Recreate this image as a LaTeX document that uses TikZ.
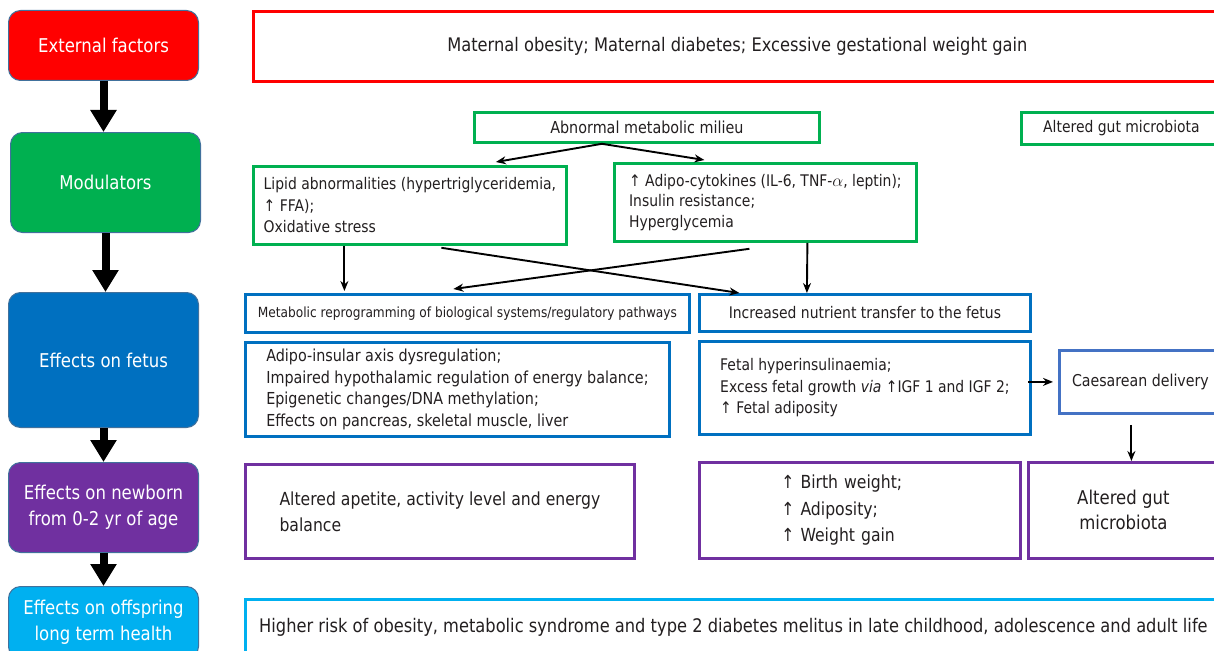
\documentclass[tikz,border=0pt]{standalone}
\usepackage{fontspec}
\setmainfont{DejaVu Sans}[FakeStretch=0.87]
\usepackage{tikz}
\usetikzlibrary{
    arrows.meta
}
\definecolor{extred}{HTML}{FF0000}
\definecolor{modgreen}{HTML}{00B050}
\definecolor{fetblue}{HTML}{0070C0}
\definecolor{newpurple}{HTML}{7030A0}
\definecolor{offblue}{HTML}{00B0F0}
\definecolor{caesblue}{HTML}{4472C4}
\definecolor{edgeblue}{HTML}{41719C}
\definecolor{inktext}{HTML}{231F20}
\newcommand{\fsz}[2]{\fontsize{#1}{#2}\selectfont}
\tikzset{
    stage/.style={% rounded boxes of the left column
        draw=edgeblue, line width=1pt, fill=#1, rounded corners=12pt,
        text=white, align=center, anchor=north west, font=\fsz{19}{26}},
    outbox/.style={% framed boxes on the right
        draw=#1, line width=2.8pt, fill=white, text=inktext,
        anchor=north west, align=center},
    bigarrow/.style={line width=8pt, -{Triangle[length=22pt,width=25pt]}},
    thinarrow/.style={line width=1.9pt, -{Stealth[length=10pt,width=8pt]}}
}

\begin{document}
\begin{tikzpicture}[x=1pt, y=-1pt]
        \path[use as bounding box] (0,0) rectangle (1214,650);
        \clip (0,0) rectangle (1214,650);

        % left column
        \draw (8,10)   node[stage=extred,    minimum width=190pt, minimum height=70pt](ext){External factors};
        \draw (10,132) node[stage=modgreen,  minimum width=190pt, minimum height=100pt](mod){Modulators};
        \draw (8,292)  node[stage=fetblue,   minimum width=190pt, minimum height=135pt](fetus){Effects on fetus};
        \draw (8,462)  node[stage=newpurple, minimum width=190pt, minimum height=90pt](newborn){Effects on newborn\\from 0-2 yr of age};
        \draw (8,586)  node[stage=offblue,   minimum width=190pt, minimum height=72pt](offspring){Effects on offspring\\long term health};

        \draw[bigarrow] (ext.south) -- (ext.south |- mod.north);
        \draw[bigarrow] (mod.south) -- (mod.south |- fetus.north);
        \draw[bigarrow] (fetus) to (newborn);
        \draw[bigarrow] (newborn) to (offspring);

        % external factors and modulators
        \draw (252,10) node[outbox=extred, minimum width=968pt, minimum height=70pt, font=\fsz{18.7}{24}](maternal){Maternal obesity; Maternal diabetes; Excessive gestational weight gain};
        \draw (473,111) node[outbox=modgreen, minimum width=345pt, minimum height=30pt, font=\fsz{16.5}{20}](milieu){Abnormal metabolic milieu};
        \draw (1020,111) node[outbox=modgreen, minimum width=200pt, minimum height=32pt, font=\fsz{16}{20}](gutTop){Altered gut microbiota};
        \draw (252,165) node[outbox=modgreen, minimum width=313pt, minimum height=78pt, align=left, font=\fsz{16}{21.5}](lipid){Lipid abnormalities (hypertriglyceridemia,\\↑ FFA);\\Oxidative stress};
        \draw (613,162) node[outbox=modgreen, minimum width=302pt, minimum height=78pt, align=left, font=\fsz{16}{20.5}](adipo){↑ Adipo-cytokines (IL-6, TNF-$\alpha$, leptin);\\Insulin resistance;\\Hyperglycemia};

        % effects on fetus
        \draw (244,293) node[outbox=fetblue, minimum width=444pt, minimum height=38pt, font=\fsz{14}{17}](reprog){Metabolic reprogramming of biological systems/regulatory pathways};
        \draw (698,293) node[outbox=fetblue, minimum width=331pt, minimum height=37pt, font=\fsz{16}{20}](nutrient){Increased nutrient transfer to the fetus};
        \draw (244,341) node[outbox=fetblue, minimum width=424pt, minimum height=94pt, align=left, font=\fsz{16.5}{21.5}](insular){Adipo-insular axis dysregulation;\\Impaired hypothalamic regulation of energy balance;\\Epigenetic changes/DNA methylation;\\Effects on pancreas, skeletal muscle, liver};
        \draw (698,340) node[outbox=fetblue, minimum width=331pt, minimum height=93pt, align=left, font=\fsz{16}{21.5}](fetal){Fetal hyperinsulinaemia;\\Excess fetal growth \textit{via} ↑IGF 1 and IGF 2;\\↑ Fetal adiposity};
        \draw (1058,349) node[outbox=caesblue, minimum width=162pt, minimum height=63pt, font=\fsz{16.3}{21}](caes){Caesarean delivery};

        % effects on newborn and offspring
        \draw (244,463) node[outbox=newpurple, minimum width=389pt, minimum height=94pt, align=left, font=\fsz{18}{26}](apetite){Altered apetite, activity level and energy\\balance};
        \draw (698,461) node[outbox=newpurple, minimum width=321pt, minimum height=96pt, text width=157pt, align=left, font=\fsz{18}{26.5}](birth){↑ Birth weight;\\↑ Adiposity;\\↑ Weight gain};
        \draw (1027,461) node[outbox=newpurple, minimum width=190pt, minimum height=96pt, font=\fsz{19}{25}](gutBot){Altered gut\\microbiota};
        \draw (244,598) node[outbox=offblue, minimum width=976pt, minimum height=56pt, font=\fsz{18.7}{24}](risk){Higher risk of obesity, metabolic syndrome and type 2 diabetes melitus in late childhood, adolescence and adult life};

        \draw[thinarrow] ([xshift=-45pt]milieu.south) -- ([xshift=86pt,yshift=3pt]lipid.north);
        \draw[thinarrow] ([xshift=-45pt]milieu.south) -- ([xshift=-61pt,yshift=2pt]adipo.north);
        \draw[thinarrow] ([xshift=-65.5pt]lipid.south) -- ([xshift=-123pt,yshift=2pt]reprog.north);
        \draw[thinarrow] ([xshift=31.5pt,yshift=-2pt]lipid.south) -- ([xshift=-125.5pt]nutrient.north);
        \draw[thinarrow] ([xshift=-16pt,yshift=-6pt]adipo.south) -- ([xshift=-14pt,yshift=4pt]reprog.north);
        \draw[thinarrow] ([xshift=42pt]adipo.south) -- ([xshift=-58pt]nutrient.north);
        \draw[thinarrow] ([xshift=-4pt]fetal.east |- caes.west) -- ([xshift=-5pt]caes.west);
        \draw[thinarrow] ([xshift=-9pt,yshift=-10pt]caes.south) -- ([xshift=-9pt]caes.south |- gutBot.north);
    \end{tikzpicture}
\end{document}
